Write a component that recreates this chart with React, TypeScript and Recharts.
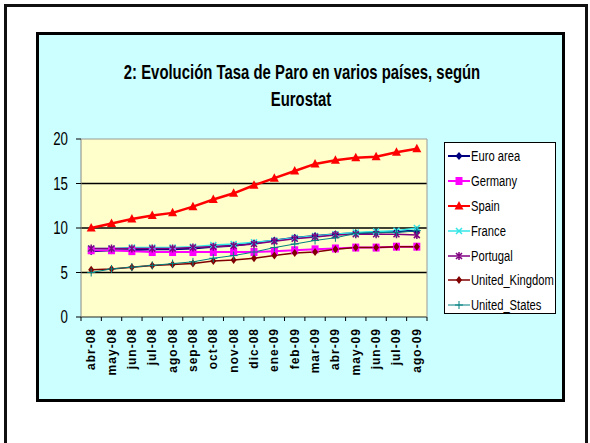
import { LineChart, Line, XAxis, YAxis, CartesianGrid, Legend } from "recharts";

const months = [
    "abr-08", "may-08", "jun-08", "jul-08", "ago-08", "sep-08", "oct-08", "nov-08", "dic-08",
    "ene-09", "feb-09", "mar-09", "abr-09", "may-09", "jun-09", "jul-09", "ago-09",
];

const euroArea = [7.4, 7.5, 7.5, 7.6, 7.6, 7.7, 7.9, 8.0, 8.3, 8.6, 8.9, 9.1, 9.3, 9.4, 9.5, 9.6, 9.7];
const germany = [7.5, 7.5, 7.4, 7.3, 7.3, 7.3, 7.3, 7.3, 7.3, 7.4, 7.5, 7.6, 7.7, 7.8, 7.8, 7.9, 7.9];
const spain = [10.0, 10.5, 11.0, 11.4, 11.7, 12.4, 13.2, 13.9, 14.8, 15.6, 16.4, 17.2, 17.6, 17.9, 18.0, 18.5, 18.9];
const france = [7.7, 7.7, 7.8, 7.8, 7.8, 7.9, 8.1, 8.2, 8.4, 8.6, 8.9, 9.1, 9.3, 9.5, 9.6, 9.7, 10.0];
const portugal = [7.7, 7.7, 7.7, 7.7, 7.7, 7.8, 7.9, 8.0, 8.2, 8.5, 8.8, 9.0, 9.2, 9.3, 9.3, 9.3, 9.2];
const unitedKingdom = [5.3, 5.4, 5.6, 5.8, 5.9, 6.0, 6.3, 6.4, 6.6, 6.9, 7.2, 7.3, 7.6, 7.8, 7.8, 7.9, 7.9];
const unitedStates = [5.0, 5.4, 5.6, 5.8, 6.0, 6.2, 6.6, 6.9, 7.3, 7.8, 8.2, 8.6, 8.9, 9.4, 9.5, 9.5, 9.7];

const yTicks = [0, 5, 10, 15, 20];
const gridValues = [5, 10, 15];

const TITLE_1 = "2: Evolución Tasa de Paro en varios países, según";
const TITLE_2 = "Eurostat";

// the original is a squeezed screenshot, so text is drawn in Arial metrics and narrowed
const FONT = '"Liberation Sans", Arial, sans-serif';
const SQUEEZE = 0.76;
const TITLE_SQUEEZE = 0.745;

type Shape = "diamond" | "square" | "triangle" | "x" | "star" | "circle" | "plus";

const SERIES: { name: string; values: number[]; color: string; shape: Shape; width: number }[] = [
    { name: "Euro area", values: euroArea, color: "#000080", shape: "diamond", width: 2 },
    { name: "Germany", values: germany, color: "#FF00FF", shape: "square", width: 2 },
    { name: "Spain", values: spain, color: "#FF0000", shape: "triangle", width: 2.5 },
    { name: "France", values: france, color: "#33E6E6", shape: "x", width: 1.5 },
    { name: "Portugal", values: portugal, color: "#800080", shape: "star", width: 1.5 },
    { name: "United_Kingdom", values: unitedKingdom, color: "#800000", shape: "circle", width: 1.5 },
    { name: "United_States", values: unitedStates, color: "#008080", shape: "plus", width: 1 },
];

const data = months.map((m, i) => {
    const row: Record<string, string | number> = { month: m };
    SERIES.forEach((s) => (row[s.name] = s.values[i]));
    return row;
});

function Marker({ cx, cy, shape, color }: { cx: number; cy: number; shape: Shape; color: string }) {
    switch (shape) {
        case "diamond":
            return <path d={`M${cx},${cy - 4}L${cx + 3.5},${cy}L${cx},${cy + 4}L${cx - 3.5},${cy}Z`} fill={color} />;
        case "square":
            return <rect x={cx - 3.5} y={cy - 4} width={7} height={8} fill={color} />;
        case "triangle":
            return <path d={`M${cx},${cy - 5}L${cx + 4.5},${cy + 3.5}L${cx - 4.5},${cy + 3.5}Z`} fill={color} />;
        case "x":
            return (
                <path d={`M${cx - 3},${cy - 3}L${cx + 3},${cy + 3}M${cx - 3},${cy + 3}L${cx + 3},${cy - 3}`} stroke={color} strokeWidth={1.5} />
            );
        case "star":
            return (
                <path
                    d={`M${cx - 3},${cy - 3}L${cx + 3},${cy + 3}M${cx - 3},${cy + 3}L${cx + 3},${cy - 3}M${cx},${cy - 4}L${cx},${cy + 4}`}
                    stroke={color}
                    strokeWidth={1.5}
                />
            );
        case "circle":
            return <path d={`M${cx},${cy - 4}L${cx + 3},${cy}L${cx},${cy + 4}L${cx - 3},${cy}Z`} fill={color} />;
        case "plus":
            return <path d={`M${cx - 4},${cy}L${cx + 4},${cy}M${cx},${cy - 4}L${cx},${cy + 4}`} stroke={color} strokeWidth={1} />;
    }
    return null;
}

// Excel-style category axis: tick marks between categories, vertical bold labels
const XTick = (props: any) => {
    const { x, y, payload, index } = props;
    const half = payload?.offset ?? 0;
    const last = index === months.length - 1;
    const ty = y + 11;
    return (
        <g>
            <line x1={x - half} x2={x - half} y1={y} y2={y + 4} stroke="#000" />
            {last && <line x1={x + half} x2={x + half} y1={y} y2={y + 4} stroke="#000" />}
            <text
                x={x}
                y={ty}
                transform={`rotate(-90, ${x}, ${ty})`}
                textAnchor="end"
                dominantBaseline="central"
                fontFamily={FONT}
                fontWeight="bold"
                fontSize={12}
                letterSpacing={1}
                fill="#000"
            >
                {payload.value}
            </text>
        </g>
    );
};

const YTick = (props: any) => {
    const { x, y, payload } = props;
    return (
        <text
            transform={`translate(${x}, ${y}) scale(${SQUEEZE}, 1)`}
            x={0}
            y={0}
            dy={6}
            textAnchor="end"
            fontFamily={FONT}
            fontSize={17.5}
            fill="#000"
        >
            {payload.value}
        </text>
    );
};

const LegendBox = () => (
    <div
        style={{
            width: 112,
            height: 172,
            boxSizing: "border-box",
            border: "1px solid #000",
            background: "#fff",
            padding: "1px 0",
        }}
    >
        {SERIES.map((s) => (
            <div key={s.name} style={{ height: 24.8, display: "flex", alignItems: "center" }}>
                <svg width={26} height={12} style={{ flexShrink: 0 }}>
                    <line x1={3} x2={25} y1={6} y2={6} stroke={s.color} strokeWidth={Math.min(s.width, 2)} />
                    <Marker cx={14} cy={6} shape={s.shape} color={s.color} />
                </svg>
                <span
                    style={{
                        display: "inline-block",
                        fontFamily: FONT,
                        fontSize: 14,
                        color: "#000",
                        whiteSpace: "nowrap",
                        transform: "scaleX(0.8)",
                        transformOrigin: "left center",
                    }}
                >
                    {s.name}
                </span>
            </div>
        ))}
    </div>
);

export default function App() {
    return (
        <div style={{ position: "absolute", left: 0, top: 0, width: 590, height: 443, background: "#fff", overflow: "hidden" }}>
            <div
                style={{
                    position: "absolute",
                    left: 4,
                    top: 4,
                    width: 578,
                    height: 500,
                    border: "3px solid #111",
                }}
            />
            <div
                style={{
                    position: "absolute",
                    left: 36,
                    top: 32,
                    width: 523,
                    height: 364,
                    background: "#CCFFFF",
                    border: "3px solid #000",
                }}
            />
            <svg width={590} height={120} style={{ position: "absolute", left: 0, top: 0 }}>
                <g transform={`translate(302, 79) scale(${TITLE_SQUEEZE}, 1)`}>
                    <text x={0} y={0} textAnchor="middle" fontFamily={FONT} fontWeight="bold" fontSize={20} fill="#000">
                        {TITLE_1}
                    </text>
                </g>
                <g transform={`translate(301, 106) scale(${TITLE_SQUEEZE}, 1)`}>
                    <text x={0} y={0} textAnchor="middle" fontFamily={FONT} fontWeight="bold" fontSize={20} fill="#000">
                        {TITLE_2}
                    </text>
                </g>
            </svg>
            <div style={{ position: "absolute", left: 36, top: 32 }}>
                <LineChart width={528} height={369} data={data} margin={{ top: 106, right: 136, left: 0, bottom: 0 }}>
                    <CartesianGrid
                        vertical={false}
                        horizontalValues={gridValues}
                        stroke="#000"
                        strokeWidth={1.5}
                        fill="#FFFFCC"
                        fillOpacity={1}
                    />
                    <XAxis
                        dataKey="month"
                        scale="band"
                        interval={0}
                        height={84}
                        tickLine={false}
                        tickSize={0}
                        tickMargin={0}
                        axisLine={{ stroke: "#222" }}
                        tick={<XTick />}
                    />
                    <XAxis xAxisId="top" orientation="top" dataKey="month" height={1} tick={false} tickLine={false} axisLine={{ stroke: "#999" }} />
                    <YAxis
                        domain={[0, 20]}
                        ticks={yTicks}
                        width={45}
                        tickSize={5}
                        tickMargin={8}
                        tickLine={{ stroke: "#000" }}
                        axisLine={{ stroke: "#888" }}
                        tick={<YTick />}
                    />
                    <YAxis yAxisId="right" orientation="right" width={1} tick={false} tickLine={false} axisLine={{ stroke: "#999" }} />
                    <Legend
                        layout="vertical"
                        align="center"
                        verticalAlign="middle"
                        wrapperStyle={{ left: 408, top: 110, width: 112, height: 172 }}
                        content={() => <LegendBox />}
                    />
                    {SERIES.map((s) => (
                        <Line
                            key={s.name}
                            dataKey={s.name}
                            stroke={s.color}
                            strokeWidth={s.width}
                            isAnimationActive={false}
                            dot={(p: any) => <Marker key={`${s.name}-${p.index}`} cx={p.cx} cy={p.cy} shape={s.shape} color={s.color} />}
                            activeDot={false}
                        />
                    ))}
                </LineChart>
            </div>
        </div>
    );
}
